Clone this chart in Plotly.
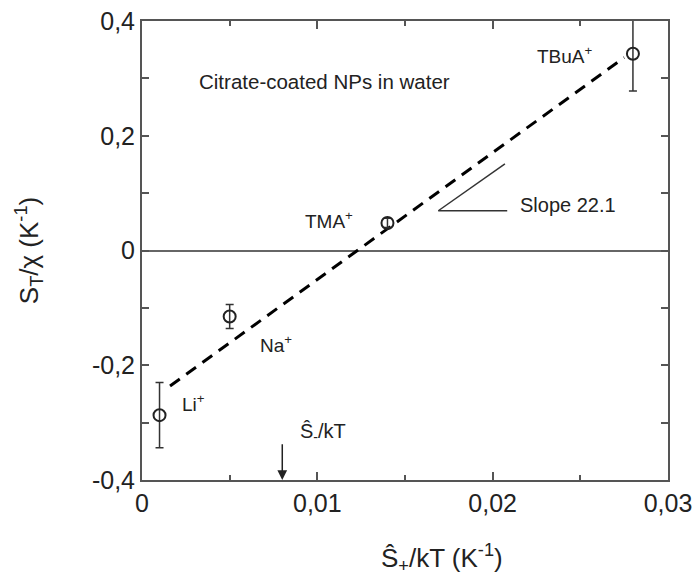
import plotly.graph_objects as go

# ---- data ----
ion_names = ["Li<sup>+</sup>", "Na<sup>+</sup>", "TMA<sup>+</sup>", "TBuA<sup>+</sup>"]
s_plus_kT = [0.001, 0.005, 0.014, 0.028]          # x values (K^-1)
st_over_chi = [-0.287, -0.115, 0.048, 0.343]      # y values (K^-1)
st_err = [0.057, 0.021, 0.008, 0.065]

fit_slope = 22.1
fit_intercept = -0.2715
fit_x = [0.0016, 0.0275]
fit_y = [fit_slope * v + fit_intercept for v in fit_x]

s_minus_kT = 0.008

x_tickvals = [0, 0.01, 0.02, 0.03]
x_ticktext = ["0", "0,01", "0,02", "0,03"]
y_tickvals = [-0.4, -0.2, 0, 0.2, 0.4]
y_ticktext = ["-0,4", "-0,2", "0", "0,2", "0,4"]

FONT = "Liberation Sans, Arial, sans-serif"
AX = "#555555"

fig = go.Figure()

fig.add_trace(go.Scatter(
    x=fit_x, y=fit_y, mode="lines",
    line=dict(color="black", width=3, dash="12px,8px"),
    showlegend=False, hoverinfo="skip"))

fig.add_trace(go.Scatter(
    x=s_plus_kT, y=st_over_chi, mode="markers",
    marker=dict(symbol="circle-open", size=12, color="#222222", line=dict(width=2, color="#222222")),
    error_y=dict(type="data", array=st_err, visible=True, color="#333333", thickness=1.5, width=4),
    showlegend=False, text=ion_names))

# ion labels
label_pos = [
    (0.00217, -0.266, "left"),
    (0.00662, -0.163, "left"),
    (0.01215, 0.054, "right"),
    (0.02241, 0.340, "left"),
]
for name, (lx, ly, anc) in zip(ion_names, label_pos):
    fig.add_annotation(x=lx, y=ly, text=name, showarrow=False, xanchor=anc, yanchor="middle",
                       font=dict(size=19, color="#222222", family=FONT))

fig.add_annotation(x=0.00314, y=0.294, text="Citrate-coated NPs in water", showarrow=False,
                   xanchor="left", yanchor="middle", font=dict(size=20.5, color="#222222", family=FONT))
fig.add_annotation(x=0.02144, y=0.0798, text="Slope 22.1", showarrow=False,
                   xanchor="left", yanchor="middle", font=dict(size=20, color="#222222", family=FONT))
fig.add_annotation(x=0.0089, y=-0.317, text="Ŝ<sub>-</sub>/kT", showarrow=False,
                   xanchor="left", yanchor="middle", font=dict(size=20, color="#222222", family=FONT))

# arrow marking S-/kT
fig.add_annotation(x=s_minus_kT, y=-0.4, ax=s_minus_kT, ay=-0.335, xref="x", yref="y",
                   axref="x", ayref="y", text="", showarrow=True, arrowhead=2, arrowsize=1.3,
                   arrowwidth=1.5, arrowcolor="#222222")

# slope triangle
fig.add_shape(type="line", x0=0.0169, y0=0.0693, x1=0.02083, y1=0.0693,
              line=dict(color="#333333", width=1.5))
fig.add_shape(type="line", x0=0.0169, y0=0.0693, x1=0.0207, y1=0.1508,
              line=dict(color="#333333", width=1.5))

# x title as annotation
fig.add_annotation(x=0.57, y=-0.17, xref="paper", yref="paper",
                   text="Ŝ<sub>+</sub>/kT (K<sup>-1</sup>)", showarrow=False,
                   xanchor="center", yanchor="middle", font=dict(size=26, color="#222222", family=FONT))

fig.update_layout(
    width=694, height=586,
    margin=dict(l=142, r=26, t=21, b=106),
    plot_bgcolor="white", paper_bgcolor="white",
    font=dict(family=FONT, color="#222222"),
    showlegend=False,
)
fig.update_xaxes(
    range=[0, 0.03], showgrid=False, zeroline=False, automargin=False,
    ticklabeloverflow="allow",
    showline=True, linecolor=AX, linewidth=2, mirror="allticks",
    ticks="inside", ticklen=8, tickwidth=1.5, tickcolor=AX,
    tickvals=x_tickvals, ticktext=x_ticktext,
    tickfont=dict(size=25, family=FONT, color="#222222"),
    minor=dict(tickvals=[0.005, 0.015, 0.025], ticks="inside", ticklen=5, tickwidth=1.5, tickcolor=AX),
)
fig.update_yaxes(
    range=[-0.4, 0.4], showgrid=False, automargin=False,
    ticklabeloverflow="allow",
    zeroline=True, zerolinecolor="#666666", zerolinewidth=1.5,
    showline=True, linecolor=AX, linewidth=2, mirror="allticks",
    ticks="inside", ticklen=7, tickwidth=1.5, tickcolor=AX,
    tickvals=y_tickvals, ticktext=y_ticktext,
    tickfont=dict(size=25, family=FONT, color="#222222"),
    minor=dict(tickvals=[-0.3, -0.1, 0.1, 0.3], ticks="inside", ticklen=7, tickwidth=1.5, tickcolor=AX),
    title=dict(text="S<sub>T</sub>/χ (K<sup>-1</sup>)", font=dict(size=26, family=FONT, color="#222222"),
               standoff=46),
)

fig.write_html("out.html", config={"displayModeBar": False},
               post_script="document.body.style.margin='0px';document.body.style.overflow='hidden';")
